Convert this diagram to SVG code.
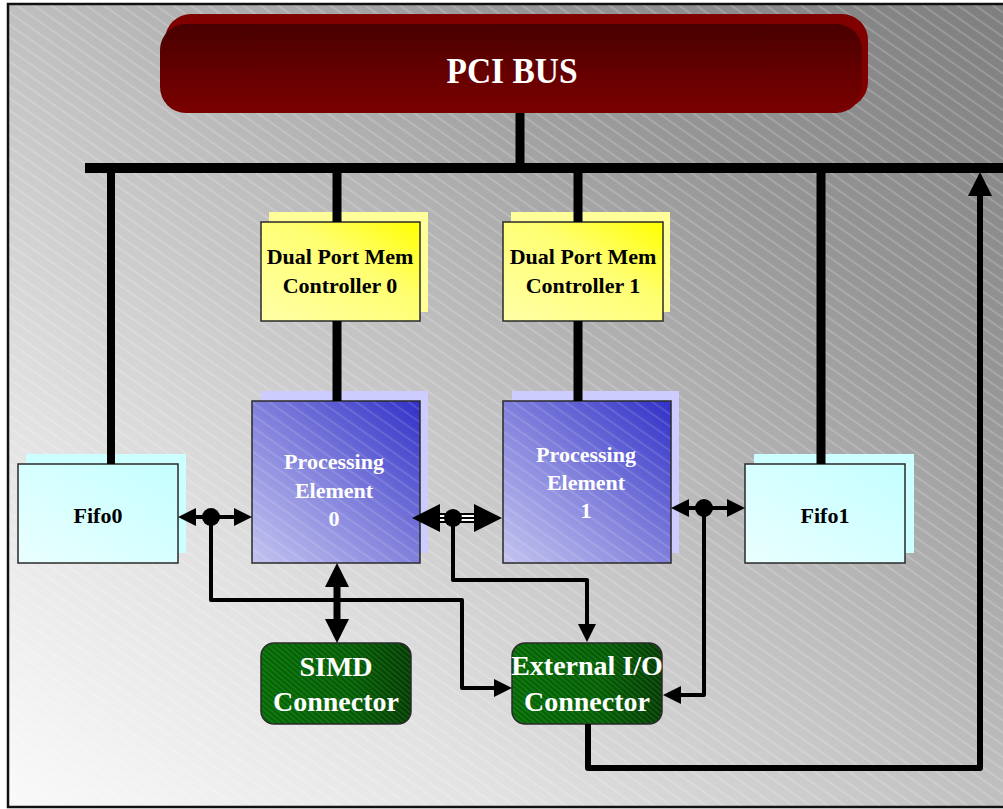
<svg xmlns="http://www.w3.org/2000/svg" width="1003" height="809" viewBox="0 0 1003 809">
<style>
.t{font-family:"Liberation Serif","Times New Roman",serif;font-weight:bold;text-anchor:middle}
.dark{fill:#000;font-size:22px}
.white{fill:#fff;font-size:22px}
.big{fill:#fff;font-size:28px}
.box{stroke:#2a2a2a;stroke-width:1.5}
.bus{stroke:#000;fill:none}
.wire{stroke:#000;stroke-width:4;fill:none;stroke-linejoin:round}
.dot{fill:#000}
</style>
<defs>
<linearGradient id="bg" x1="0" y1="1" x2="1" y2="0">
<stop offset="0" stop-color="#fafafa"/>
<stop offset="0.25" stop-color="#e2e2e2"/>
<stop offset="0.5" stop-color="#bfbfbf"/>
<stop offset="0.75" stop-color="#969696"/>
<stop offset="1" stop-color="#7e7e7e"/>
</linearGradient>
<linearGradient id="pciG" x1="0" y1="0" x2="0" y2="1">
<stop offset="0" stop-color="#480000"/>
<stop offset="0.6" stop-color="#680000"/>
<stop offset="1" stop-color="#7a0000"/>
</linearGradient>
<linearGradient id="dpmG" x1="0" y1="1" x2="1" y2="0">
<stop offset="0" stop-color="#ffffa8"/>
<stop offset="0.6" stop-color="#ffff70"/>
<stop offset="1" stop-color="#ffff00"/>
</linearGradient>
<linearGradient id="peG" x1="0" y1="1" x2="1" y2="0">
<stop offset="0" stop-color="#c4c4f0"/>
<stop offset="0.5" stop-color="#8080dc"/>
<stop offset="1" stop-color="#3030c8"/>
</linearGradient>
<linearGradient id="fifoG" x1="0" y1="1" x2="1" y2="0">
<stop offset="0" stop-color="#eaffff"/>
<stop offset="1" stop-color="#c4ffff"/>
</linearGradient>
<linearGradient id="grnG" x1="0" y1="0" x2="1" y2="0">
<stop offset="0" stop-color="#006800"/>
<stop offset="0.6" stop-color="#005c00"/>
<stop offset="1" stop-color="#003a00"/>
</linearGradient>
<pattern id="hatch" width="10" height="10" patternUnits="userSpaceOnUse" patternTransform="rotate(-55)">
<line x1="5" y1="0" x2="5" y2="10" stroke="#fff" stroke-width="1"/>
</pattern>
<pattern id="fine" width="4" height="4" patternUnits="userSpaceOnUse" patternTransform="rotate(-50)">
<line x1="2" y1="0" x2="2" y2="4" stroke="#fff" stroke-width="1"/>
</pattern>
<marker id="aS" markerUnits="userSpaceOnUse" markerWidth="18" markerHeight="18" viewBox="0 0 18 18" refX="12" refY="9" orient="auto"><path d="M0,0 L18,9 L0,18 z" fill="#000"/></marker>
<marker id="aSr" markerUnits="userSpaceOnUse" markerWidth="18" markerHeight="18" viewBox="0 0 18 18" refX="6" refY="9" orient="auto"><path d="M18,0 L0,9 L18,18 z" fill="#000"/></marker>
<marker id="aB" markerUnits="userSpaceOnUse" markerWidth="28" markerHeight="28" viewBox="0 0 28 28" refX="20" refY="14" orient="auto"><path d="M0,0 L28,14 L0,28 z" fill="#000"/></marker>
<marker id="aBr" markerUnits="userSpaceOnUse" markerWidth="28" markerHeight="28" viewBox="0 0 28 28" refX="8" refY="14" orient="auto"><path d="M28,0 L0,14 L28,28 z" fill="#000"/></marker>
<marker id="aM" markerUnits="userSpaceOnUse" markerWidth="24" markerHeight="24" viewBox="0 0 24 24" refX="17" refY="12" orient="auto"><path d="M0,0 L24,12 L0,24 z" fill="#000"/></marker>
<marker id="aMr" markerUnits="userSpaceOnUse" markerWidth="24" markerHeight="24" viewBox="0 0 24 24" refX="7" refY="12" orient="auto"><path d="M24,0 L0,12 L24,24 z" fill="#000"/></marker>
</defs>

<g id="background">
<rect x="0" y="0" width="1003" height="809" fill="#fff"/>
<rect x="8" y="4" width="1010" height="803" fill="url(#bg)"/>
<rect x="8" y="4" width="1010" height="803" fill="url(#hatch)" opacity="0.35"/>
<rect x="8" y="4" width="1010" height="803" fill="none" stroke="#111" stroke-width="2.5"/>
</g>

<g id="pci-bus">
<rect x="165" y="14" width="703" height="94" rx="26" fill="#800000"/>
<rect x="160" y="24" width="702" height="89" rx="26" fill="url(#pciG)"/>
<text class="t" x="512" y="83" font-size="36" fill="#fff" textLength="131" lengthAdjust="spacingAndGlyphs">PCI BUS</text>
</g>

<g id="dpm0">
<rect x="269" y="212" width="159" height="100" fill="#ffff99"/>
<rect class="box" x="261" y="222" width="159" height="99" fill="url(#dpmG)"/>
<text class="t dark" x="340" y="264">Dual Port Mem</text>
<text class="t dark" x="340" y="293">Controller 0</text>
</g>

<g id="dpm1">
<rect x="511" y="212" width="159" height="100" fill="#ffff99"/>
<rect class="box" x="503" y="222" width="160" height="99" fill="url(#dpmG)"/>
<text class="t dark" x="583" y="264">Dual Port Mem</text>
<text class="t dark" x="583" y="293">Controller 1</text>
</g>

<g id="pe0">
<rect x="261" y="391" width="167" height="162" fill="#ccccff"/>
<rect x="252" y="401" width="168" height="162" fill="url(#peG)"/>
<rect x="252" y="401" width="168" height="162" fill="url(#hatch)" opacity="0.25"/>
<rect class="box" x="252" y="401" width="168" height="162" fill="none"/>
<text class="t white" x="334" y="469">Processing</text>
<text class="t white" x="334" y="498">Element</text>
<text class="t white" x="334" y="526">0</text>
</g>

<g id="pe1">
<rect x="512" y="391" width="167" height="162" fill="#ccccff"/>
<rect x="503" y="401" width="168" height="162" fill="url(#peG)"/>
<rect x="503" y="401" width="168" height="162" fill="url(#hatch)" opacity="0.25"/>
<rect class="box" x="503" y="401" width="168" height="162" fill="none"/>
<text class="t white" x="586" y="462">Processing</text>
<text class="t white" x="586" y="490">Element</text>
<text class="t white" x="586" y="518">1</text>
</g>

<g id="fifo0">
<rect x="26" y="454" width="160" height="99" fill="#ccffff"/>
<rect class="box" x="18" y="464" width="160" height="99" fill="url(#fifoG)"/>
<text class="t dark" x="98" y="523">Fifo0</text>
</g>

<g id="fifo1">
<rect x="754" y="454" width="160" height="99" fill="#ccffff"/>
<rect class="box" x="745" y="464" width="160" height="99" fill="url(#fifoG)"/>
<text class="t dark" x="825" y="523">Fifo1</text>
</g>

<g id="simd">
<rect x="261" y="643" width="150" height="81" rx="13" fill="url(#grnG)"/>
<rect x="261" y="643" width="150" height="81" rx="13" fill="url(#fine)" opacity="0.18"/>
<rect class="box" x="261" y="643" width="150" height="81" rx="13" fill="none"/>
<text class="t big" x="336" y="676">SIMD</text>
<text class="t big" x="336" y="711">Connector</text>
</g>

<g id="external-io">
<rect x="512" y="643" width="150" height="81" rx="13" fill="url(#grnG)"/>
<rect x="512" y="643" width="150" height="81" rx="13" fill="url(#fine)" opacity="0.18"/>
<rect class="box" x="512" y="643" width="150" height="81" rx="13" fill="none"/>
<text class="t big" x="587" y="675">External I/O</text>
<text class="t big" x="587" y="711">Connector</text>
</g>

<g id="connectors">
<line class="bus" x1="520" y1="113" x2="520" y2="168" stroke-width="9"/>
<line class="bus" x1="85" y1="168" x2="1003" y2="168" stroke-width="10"/>
<line class="bus" x1="111" y1="168" x2="111" y2="464" stroke-width="8"/>
<line class="bus" x1="337" y1="168" x2="337" y2="222" stroke-width="9"/>
<line class="bus" x1="578" y1="168" x2="578" y2="222" stroke-width="9"/>
<line class="bus" x1="821" y1="168" x2="821" y2="464" stroke-width="9"/>
<line class="bus" x1="337" y1="321" x2="337" y2="401" stroke-width="9"/>
<line class="bus" x1="578" y1="321" x2="578" y2="401" stroke-width="9"/>
<line class="wire" x1="184" y1="517" x2="246" y2="517" marker-start="url(#aSr)" marker-end="url(#aS)"/>
<polyline class="wire" points="211,517 211,600 462,600 462,688 506,688" marker-end="url(#aS)"/>
<circle class="dot" cx="211" cy="517" r="9"/>
<line x1="436" y1="518" x2="478" y2="518" stroke="#000" stroke-width="10"/>
<line x1="436" y1="518" x2="478" y2="518" stroke="#fff" stroke-width="6"/>
<line x1="436" y1="518" x2="478" y2="518" stroke="#000" stroke-width="2"/>
<line x1="420" y1="518" x2="494" y2="518" stroke="none" stroke-width="10" marker-start="url(#aBr)" marker-end="url(#aB)"/>
<polyline class="wire" points="453,518 453,580 587,580 587,636" marker-end="url(#aS)"/>
<circle class="dot" cx="453" cy="518" r="9"/>
<line class="wire" x1="677" y1="508" x2="739" y2="508" marker-start="url(#aSr)" marker-end="url(#aS)"/>
<polyline class="wire" points="704,508 704,695 669,695" marker-end="url(#aS)"/>
<circle class="dot" cx="704" cy="508" r="9"/>
<line x1="337" y1="570" x2="337" y2="636" stroke="#000" stroke-width="7" marker-start="url(#aMr)" marker-end="url(#aM)"/>
<polyline points="588,724 588,768 980,768 980,179" fill="none" stroke="#000" stroke-width="6" stroke-linejoin="round" marker-end="url(#aM)"/>
</g>
</svg>
